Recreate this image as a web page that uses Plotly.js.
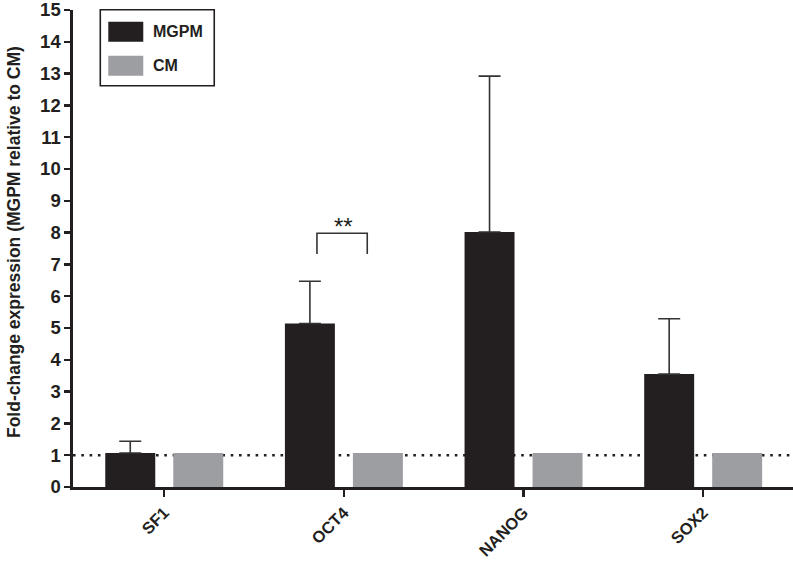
<!DOCTYPE html>
<html>
<head>
<meta charset="utf-8">
<script src="https://cdn.plot.ly/plotly-3.0.1.min.js"></script>
<style>html,body{margin:0;padding:0;background:#fff;}#chart{width:793px;height:562px;}</style>
</head>
<body>
<div id="chart"></div>
<script>
// ---- data ----
var genes = ["SF1", "OCT4", "NANOG", "SOX2"];
var seriesNames = ["MGPM", "CM"];
var mgpm = [1.07, 5.14, 8.02, 3.55];
var mgpmErr = [0.37, 1.33, 4.90, 1.74];
var cm = [1.07, 1.07, 1.07, 1.07];
var referenceLevel = 1;
var yTicks = [0,1,2,3,4,5,6,7,8,9,10,11,12,13,14,15];
var sigLabel = "**";

var dark = "#231f20";
var grey = "#9d9ea2";
var fontFam = "Liberation Sans, Arial, sans-serif";

var traces = [
  {
    type: "bar", name: seriesNames[0], x: genes, y: mgpm,
    marker: {color: dark, line: {width: 0}},
    error_y: {type: "data", symmetric: false, array: mgpmErr, arrayminus: mgpm.map(function(){return 0;}),
              color: "#333333", thickness: 1.6, width: 11},
    showlegend: false
  },
  {
    type: "bar", name: seriesNames[1], x: genes, y: cm,
    marker: {color: grey, line: {width: 0}},
    showlegend: false
  }
];

function pyx(px){ return (px - 72.7) / 720.3; }
function pyy(py){ return (487.3 - py) / 477; }

var shapes = [
  // dotted reference line
  {type: "line", xref: "paper", yref: "y", x0: 0, x1: 1, y0: referenceLevel, y1: referenceLevel,
   line: {color: dark, width: 2.6, dash: "2.6px,5.7px"}, layer: "below"},
  // significance bracket (OCT4)
  {type: "path", xref: "x", yref: "y",
   path: "M 0.85 7.33 L 0.85 7.98 L 1.13 7.98 L 1.13 7.33",
   line: {color: "#333333", width: 1.6}},
  // legend box
  {type: "rect", xref: "paper", yref: "paper", x0: pyx(100), x1: pyx(214), y0: pyy(86), y1: pyy(10),
   line: {color: dark, width: 1.6}, fillcolor: "rgba(0,0,0,0)"},
  {type: "rect", xref: "paper", yref: "paper", x0: pyx(108), x1: pyx(143), y0: pyy(42), y1: pyy(22),
   line: {width: 0}, fillcolor: dark},
  {type: "rect", xref: "paper", yref: "paper", x0: pyx(108), x1: pyx(143), y0: pyy(76), y1: pyy(56),
   line: {width: 0}, fillcolor: grey}
];

var annotations = [
  {xref: "x", yref: "y", x: 0.995, y: 8.19, text: sigLabel, showarrow: false,
   font: {family: fontFam, size: 24, color: dark}},
  {xref: "paper", yref: "paper", x: pyx(151), y: pyy(32), xanchor: "left", yanchor: "middle",
   text: "<b>" + seriesNames[0] + "</b>", showarrow: false, font: {family: fontFam, size: 16, color: dark}},
  {xref: "paper", yref: "paper", x: pyx(151), y: pyy(66), xanchor: "left", yanchor: "middle",
   text: "<b>" + seriesNames[1] + "</b>", showarrow: false, font: {family: fontFam, size: 16, color: dark}},
  {xref: "paper", yref: "paper", x: pyx(13), y: pyy(242), xanchor: "center", yanchor: "middle",
   textangle: -90, text: "<b>Fold-change expression (MGPM relative to CM)</b>", showarrow: false,
   font: {family: fontFam, size: 17.5, color: dark}}
];

var layout = {
  width: 793, height: 562,
  margin: {l: 72.7, r: 0, t: 10.3, b: 74.7, pad: 0},
  paper_bgcolor: "#fff", plot_bgcolor: "#fff",
  barmode: "group", bargap: 0.243, bargroupgap: 0.265,
  showlegend: false,
  xaxis: {
    type: "category", range: [-0.508, 3.5], fixedrange: true,
    showline: true, linecolor: dark, linewidth: 2.6,
    ticks: "outside", ticklen: 7, tickwidth: 2.4, tickcolor: dark,
    showgrid: false, zeroline: false, tickangle: -45,
    ticklabeloverflow: "allow",
    tickfont: {family: fontFam, size: 16.5, color: dark, weight: "bold"}
  },
  yaxis: {
    range: [0, 15], tickvals: yTicks, ticktext: yTicks.map(String), fixedrange: true,
    showline: true, linecolor: dark, linewidth: 2.6,
    ticks: "outside", ticklen: 6, tickwidth: 2.4, tickcolor: dark,
    showgrid: false, zeroline: false,
    ticklabeloverflow: "allow",
    tickfont: {family: fontFam, size: 18.5, color: dark, weight: "bold"}
  },
  shapes: shapes,
  annotations: annotations
};

Plotly.newPlot("chart", traces, layout, {displayModeBar: false, staticPlot: true});
</script>
</body>
</html>
